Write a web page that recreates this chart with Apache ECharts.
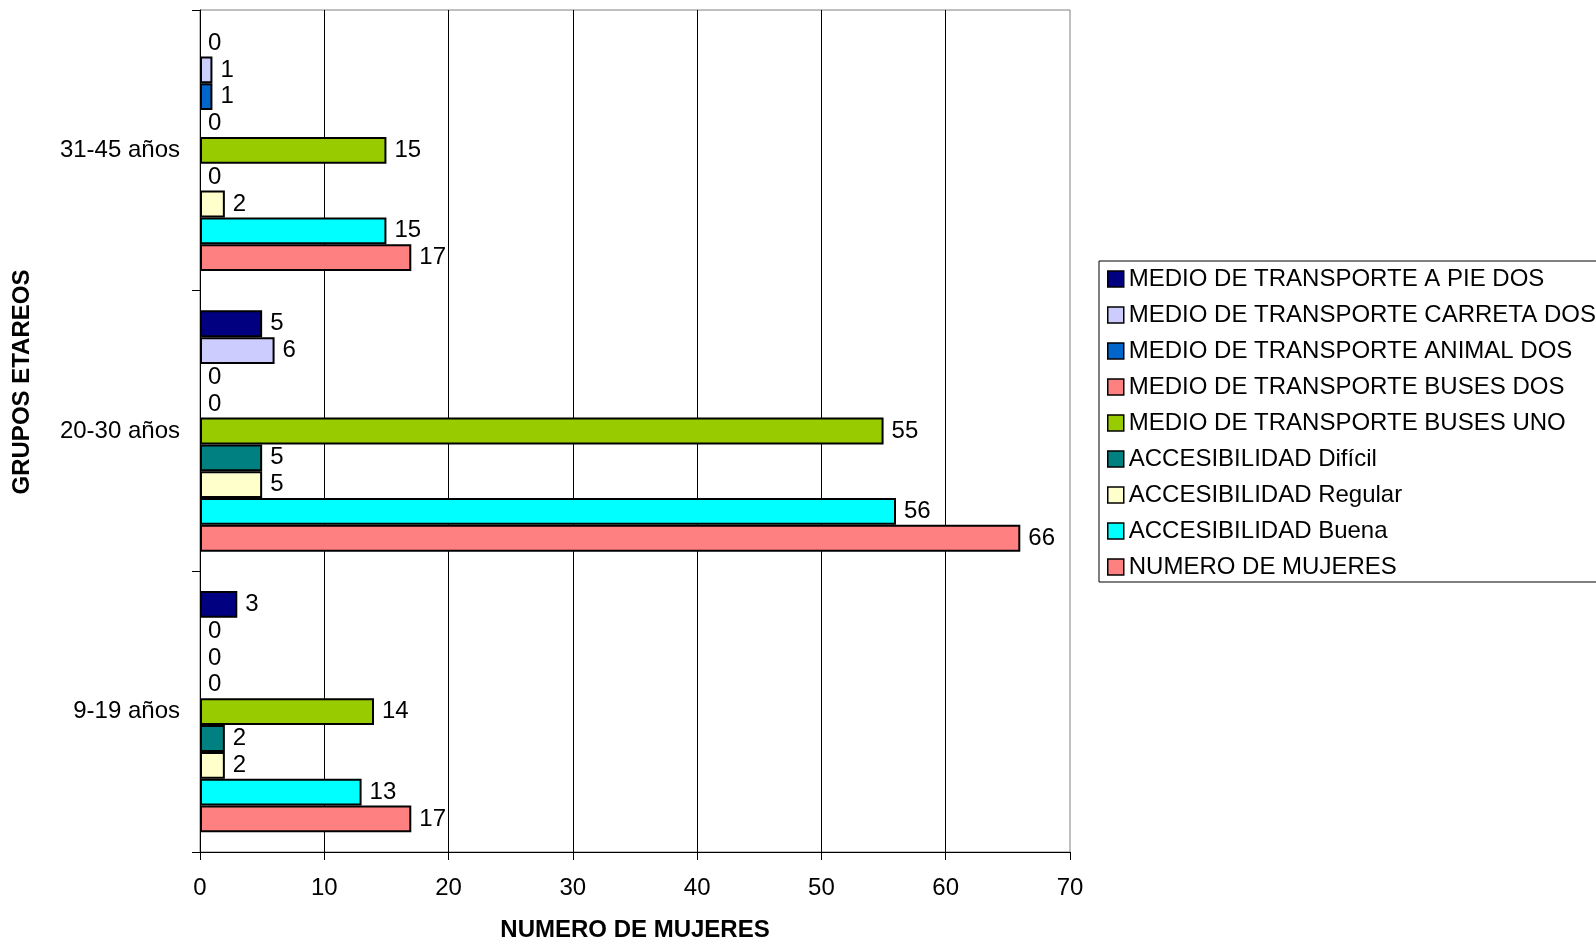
<!DOCTYPE html>
<html>
<head>
<meta charset="utf-8">
<script src="https://cdn.jsdelivr.net/npm/echarts@6/dist/echarts.min.js"></script>
<style>
html,body{margin:0;padding:0;background:#fff;}
#c{width:1596px;height:942px;}
</style>
</head>
<body>
<div id="c"></div>
<script>
// Categories (bottom to top on the y axis)
const categories = ['9-19 años', '20-30 años', '31-45 años'];

// Series values, one per category in the order above
const aPieDos      = [3, 5, 0];
const carretaDos   = [0, 6, 1];
const animalDos    = [0, 0, 1];
const busesDos     = [0, 0, 0];
const busesUno     = [14, 55, 15];
const accDificil   = [2, 5, 0];
const accRegular   = [2, 5, 2];
const accBuena     = [13, 56, 15];
const numMujeres   = [17, 66, 17];

const seriesNames = [
  'MEDIO DE TRANSPORTE A PIE DOS',
  'MEDIO DE TRANSPORTE CARRETA DOS',
  'MEDIO DE TRANSPORTE ANIMAL DOS',
  'MEDIO DE TRANSPORTE BUSES DOS',
  'MEDIO DE TRANSPORTE BUSES UNO',
  'ACCESIBILIDAD Difícil',
  'ACCESIBILIDAD Regular',
  'ACCESIBILIDAD Buena',
  'NUMERO DE MUJERES'
];
const seriesValues = [aPieDos, carretaDos, animalDos, busesDos, busesUno, accDificil, accRegular, accBuena, numMujeres];
const seriesColors = ['#000080', '#CCCCFF', '#0066CC', '#FF8080', '#99CC00', '#008080', '#FFFFCC', '#00FFFF', '#FF8080'];

const xTicks = [0, 10, 20, 30, 40, 50, 60, 70];

const FONT = '"Liberation Sans", Arial, sans-serif';

const chart = echarts.init(document.getElementById('c'), null, {renderer: 'canvas'});

const series = seriesNames.map((name, i) => ({
  name: name,
  type: 'bar',
  data: seriesValues[i].map(v => v === 0 ? { value: v, itemStyle: { borderWidth: 0 } } : v),
  barGap: '0%',
  barCategoryGap: '14%',
  itemStyle: { color: seriesColors[i], borderColor: '#000', borderWidth: 2 },
  label: {
    show: true,
    position: 'right',
    distance: 8,
    color: '#000',
    fontSize: 24,
    fontFamily: FONT
  },
  emphasis: { disabled: true },
  animation: false
}));

chart.setOption({
  backgroundColor: '#fff',
  animation: false,
  grid: {
    left: 200, top: 10, width: 870, height: 842,
    outerBoundsMode: 'none',
    containLabel: false,
    show: true, borderColor: '#808080', borderWidth: 1, backgroundColor: 'transparent'
  },
  legend: {
    orient: 'vertical',
    left: 1099, top: 261,
    data: seriesNames,
    icon: 'rect',
    itemWidth: 16, itemHeight: 16, itemGap: 12,
    padding: [6, 8, 3, 8],
    borderColor: '#000', borderWidth: 1,
    itemStyle: { borderColor: '#000', borderWidth: 1.5 },
    textStyle: { fontSize: 24, fontFamily: FONT, color: '#000' },
    selectedMode: false
  },
  xAxis: {
    type: 'value',
    min: xTicks[0], max: xTicks[xTicks.length - 1], interval: 10,
    name: 'NUMERO DE MUJERES',
    nameLocation: 'middle',
    nameGap: 66,
    nameTextStyle: { fontSize: 24, fontWeight: 'bold', fontFamily: FONT, color: '#000' },
    axisLine: { show: true, lineStyle: { color: '#000', width: 1 } },
    axisTick: { show: true, length: 8, lineStyle: { color: '#000' } },
    axisLabel: { fontSize: 24, fontFamily: FONT, color: '#000', margin: 24 },
    splitLine: { show: true, showMinLine: false, showMaxLine: false, lineStyle: { color: '#000', width: 1 } }
  },
  yAxis: {
    type: 'category',
    data: categories,
    axisLine: { show: true, lineStyle: { color: '#000', width: 1 } },
    axisTick: { show: true, length: 8, lineStyle: { color: '#000' } },
    axisLabel: { fontSize: 24, fontFamily: FONT, color: '#000', margin: 20 },
    splitLine: { show: false }
  },
  graphic: [{
    type: 'text',
    x: 22, y: 382,
    rotation: Math.PI / 2,
    style: {
      text: 'GRUPOS ETAREOS',
      font: 'bold 24px ' + FONT,
      fill: '#000',
      align: 'center',
      verticalAlign: 'middle'
    }
  }],
  series: series
});
</script>
</body>
</html>
